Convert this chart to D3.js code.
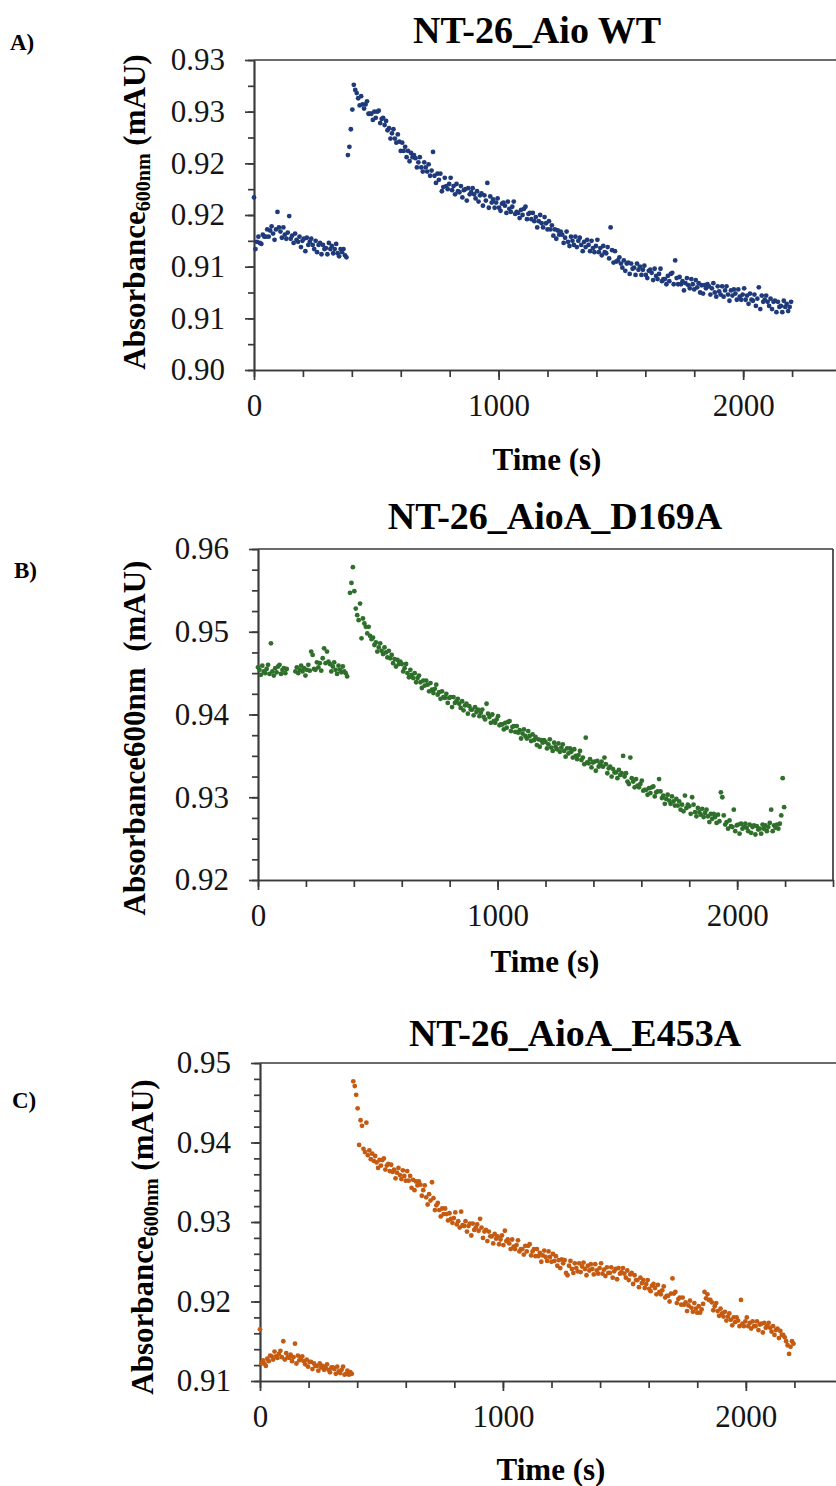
<!DOCTYPE html>
<html>
<head>
<meta charset="utf-8">
<script src="https://cdn.jsdelivr.net/npm/d3@7"></script>
<style>
  body { margin: 0; background: #fff; }
  svg { display: block; font-family: "Liberation Serif", "Times New Roman", serif; }
  .axis path, .axis line { stroke: #3a3a3a; stroke-width: 1.7; }
  .axis text { font-size: 31px; fill: #151515; }
  .frame { stroke: #3a3a3a; stroke-width: 1.7; }
  .title { font-size: 38px; font-weight: bold; fill: #000; }
  .axis_label { font-size: 31px; font-weight: bold; fill: #000; }
  .panel_letter { font-size: 23px; font-weight: bold; fill: #000; }
</style>
</head>
<body>
<svg id="figure" width="836" height="1486"></svg>
<script>
/* global d3 */

const serif = "'Liberation Serif', 'Times New Roman', serif";

// readings are taken every 6 s from t = 0 to 2196 s
const sampleInterval = 6;

const xTickValues = [0, 1000, 2000];
const xTickLabels = ["0", "1000", "2000"];
const xMinorStep = 200;
const xMax = 2400;

// A) NT-26_Aio WT
const wtTicks = [0.900, 0.905, 0.910, 0.915, 0.920, 0.925, 0.930];
const wtTickLabels = ["0.90", "0.91", "0.91", "0.92", "0.92", "0.93", "0.93"];
const wtAbs = [
  0.9167,0.9117,0.9124,0.9129,0.9123,0.9122,0.9131,0.9129,0.9129,0.9136,
  0.9129,0.9135,0.9139,0.9132,0.9126,0.9136,0.9153,0.9138,0.9134,0.9128,
  0.9138,0.9131,0.9127,0.9133,0.9149,0.9127,0.9130,0.9123,0.9132,0.9126,
  0.9124,0.9129,0.9119,0.9125,0.9127,0.9115,0.9128,0.9121,0.9124,0.9127,
  0.9121,0.9117,0.9125,0.9114,0.9121,0.9123,0.9112,0.9121,0.9117,0.9118,
  0.9112,0.9123,0.9117,0.9120,0.9113,0.9117,0.9122,0.9113,0.9110,0.9117,
  0.9114,0.9117,0.9111,0.9109,0.9208,0.9216,0.9233,0.9252,0.9276,0.9271,
  0.9268,0.9263,0.9256,0.9265,0.9257,0.9253,0.9257,0.9260,0.9248,0.9248,
  0.9248,0.9242,0.9250,0.9244,0.9250,0.9251,0.9239,0.9243,0.9244,0.9237,
  0.9241,0.9232,0.9234,0.9224,0.9229,0.9233,0.9224,0.9220,0.9228,0.9221,
  0.9212,0.9220,0.9212,0.9216,0.9206,0.9212,0.9202,0.9210,0.9206,0.9208,
  0.9205,0.9196,0.9201,0.9206,0.9196,0.9192,0.9201,0.9196,0.9192,0.9199,
  0.9188,0.9193,0.9211,0.9188,0.9181,0.9190,0.9184,0.9190,0.9173,0.9177,
  0.9186,0.9178,0.9175,0.9180,0.9186,0.9174,0.9178,0.9170,0.9180,0.9173,
  0.9172,0.9178,0.9167,0.9174,0.9175,0.9164,0.9176,0.9170,0.9172,0.9176,
  0.9170,0.9166,0.9173,0.9163,0.9169,0.9171,0.9159,0.9169,0.9164,0.9181,
  0.9157,0.9168,0.9162,0.9165,0.9157,0.9162,0.9166,0.9157,0.9154,0.9161,
  0.9162,0.9159,0.9152,0.9163,0.9156,0.9153,0.9158,0.9163,0.9151,0.9153,
  0.9152,0.9147,0.9155,0.9150,0.9156,0.9158,0.9146,0.9151,0.9152,0.9146,
  0.9152,0.9144,0.9148,0.9138,0.9144,0.9150,0.9142,0.9138,0.9148,0.9142,
  0.9136,0.9144,0.9136,0.9140,0.9130,0.9136,0.9127,0.9135,0.9131,0.9134,
  0.9131,0.9123,0.9128,0.9134,0.9124,0.9120,0.9129,0.9125,0.9121,0.9129,
  0.9119,0.9125,0.9128,0.9121,0.9115,0.9124,0.9119,0.9126,0.9121,0.9115,
  0.9125,0.9118,0.9114,0.9120,0.9126,0.9114,0.9118,0.9111,0.9120,0.9114,
  0.9113,0.9119,0.9108,0.9138,0.9116,0.9104,0.9115,0.9105,0.9106,0.9109,
  0.9103,0.9099,0.9106,0.9096,0.9103,0.9104,0.9093,0.9103,0.9098,0.9099,
  0.9092,0.9103,0.9097,0.9100,0.9092,0.9097,0.9101,0.9092,0.9089,0.9096,
  0.9097,0.9094,0.9087,0.9098,0.9091,0.9088,0.9093,0.9098,0.9086,0.9088,
  0.9088,0.9083,0.9091,0.9086,0.9093,0.9094,0.9083,0.9106,0.9089,0.9083,
  0.9090,0.9083,0.9086,0.9077,0.9084,0.9089,0.9082,0.9079,0.9088,0.9083,
  0.9078,0.9087,0.9080,0.9084,0.9075,0.9082,0.9074,0.9082,0.9079,0.9083,
  0.9081,0.9073,0.9079,0.9084,0.9075,0.9071,0.9081,0.9076,0.9073,0.9081,
  0.9071,0.9077,0.9081,0.9073,0.9067,0.9077,0.9072,0.9078,0.9074,0.9068,
  0.9078,0.9071,0.9068,0.9073,0.9079,0.9068,0.9072,0.9064,0.9074,0.9068,
  0.9067,0.9073,0.9062,0.9069,0.9080,0.9059,0.9072,0.9066,0.9068,0.9072,
  0.9066,0.9062,0.9069,0.9059,0.9066,0.9067,0.9056,0.9066,0.9061,0.9062,
  0.9056,0.9067,0.9061,0.9064,0.9057,0.9061,0.9066
];

// B) NT-26_AioA_D169A (null = no reading)
const d169aTicks = [0.92, 0.93, 0.94, 0.95, 0.96];
const d169aTickLabels = ["0.92", "0.93", "0.94", "0.95", "0.96"];
const d169aAbs = [
  0.9457,0.9454,0.9448,0.9459,0.9452,0.9450,0.9455,0.9460,0.9449,0.9486,
  0.9452,0.9447,0.9456,0.9451,0.9458,0.9460,0.9449,0.9454,0.9456,0.9450,
  0.9455,null,null,null,null,null,0.9452,0.9457,0.9450,0.9454,
  0.9459,0.9452,0.9456,0.9447,0.9454,0.9460,0.9453,0.9476,0.9472,0.9455,
  0.9454,0.9463,0.9457,0.9462,0.9453,0.9468,0.9480,0.9462,0.9476,0.9464,
  0.9461,0.9452,0.9458,0.9463,0.9454,0.9449,0.9459,0.9454,0.9451,0.9458,
  0.9452,0.9450,0.9446,null,0.9547,0.9559,0.9578,0.9549,0.9528,0.9520,
  0.9514,0.9534,0.9492,0.9516,0.9510,0.9506,0.9498,0.9506,0.9495,0.9491,
  0.9493,0.9484,0.9487,0.9476,0.9481,0.9486,0.9477,0.9473,0.9481,0.9475,
  0.9469,0.9477,0.9468,0.9472,0.9462,0.9467,0.9458,0.9466,0.9461,0.9464,
  0.9461,0.9452,0.9456,0.9461,0.9450,0.9445,0.9454,0.9448,0.9444,0.9450,
  0.9439,0.9444,0.9447,0.9439,0.9432,0.9441,0.9435,0.9441,0.9436,0.9428,
  0.9438,0.9430,0.9426,0.9431,0.9436,0.9424,0.9427,0.9419,0.9428,0.9421,
  0.9420,0.9425,0.9414,0.9420,0.9421,0.9409,0.9421,0.9414,0.9416,0.9419,
  0.9413,0.9408,0.9416,0.9405,0.9411,0.9413,0.9401,0.9410,0.9406,0.9406,
  0.9399,0.9409,0.9403,0.9406,0.9398,0.9402,0.9406,0.9397,0.9394,0.9413,
  0.9401,0.9397,0.9390,0.9400,0.9392,0.9390,0.9394,0.9398,0.9387,0.9388,
  0.9388,0.9382,0.9390,0.9384,0.9391,0.9392,0.9380,0.9385,0.9386,0.9379,
  0.9386,0.9378,0.9381,0.9371,0.9377,0.9382,0.9374,0.9371,0.9380,0.9374,
  0.9368,0.9376,0.9369,0.9373,0.9363,0.9370,0.9361,0.9369,0.9366,0.9369,
  0.9367,0.9359,0.9364,0.9370,0.9360,0.9356,0.9366,0.9361,0.9358,0.9365,
  0.9355,0.9360,0.9364,0.9356,0.9349,0.9359,0.9353,0.9359,0.9355,0.9348,
  0.9358,0.9350,0.9346,0.9351,0.9356,0.9345,0.9348,0.9340,0.9372,0.9342,
  0.9341,0.9346,0.9336,0.9342,0.9343,0.9332,0.9344,0.9337,0.9340,0.9343,
  0.9337,0.9348,0.9340,0.9329,0.9335,0.9337,0.9325,0.9334,0.9330,0.9330,
  0.9323,0.9333,0.9327,0.9329,0.9350,0.9325,0.9329,0.9319,0.9316,0.9348,
  0.9323,0.9319,0.9312,0.9322,0.9314,0.9312,0.9316,0.9320,0.9308,0.9309,
  0.9309,0.9303,0.9311,0.9305,0.9312,0.9313,0.9301,0.9306,0.9307,0.9322,
  0.9307,0.9299,0.9302,0.9292,0.9298,0.9303,0.9296,0.9292,0.9301,0.9295,
  0.9290,0.9298,0.9290,0.9295,0.9285,0.9291,0.9283,0.9302,0.9287,0.9291,
  0.9289,0.9280,0.9300,0.9291,0.9282,0.9277,0.9287,0.9282,0.9279,0.9286,
  0.9276,0.9281,0.9285,0.9277,0.9270,0.9280,0.9274,0.9280,0.9276,0.9269,
  0.9279,0.9271,0.9306,0.9300,0.9278,0.9267,0.9270,0.9262,0.9272,0.9265,
  0.9264,0.9285,0.9259,0.9266,0.9267,0.9256,0.9268,0.9262,0.9264,0.9268,
  0.9263,0.9259,0.9267,0.9257,0.9264,0.9266,0.9255,0.9265,0.9261,0.9262,
  0.9256,0.9267,0.9262,0.9266,0.9259,0.9264,0.9269,0.9285,0.9259,0.9266,
  0.9263,0.9267,0.9262,0.9268,0.9278,0.9323,0.9288
];

// C) NT-26_AioA_E453A
const e453aTicks = [0.91, 0.92, 0.93, 0.94, 0.95];
const e453aTickLabels = ["0.91", "0.92", "0.93", "0.94", "0.95"];
const e453aAbs = [
  0.9165,0.9122,0.9126,0.9122,0.9119,0.9128,0.9125,0.9132,0.9131,0.9127,
  0.9137,0.9131,0.9129,0.9134,0.9138,0.9130,0.9150,0.9127,0.9135,0.9130,
  0.9129,0.9133,0.9125,0.9130,0.9147,0.9122,0.9132,0.9126,0.9129,0.9131,
  0.9125,0.9121,0.9127,0.9118,0.9124,0.9124,0.9115,0.9122,0.9119,0.9119,
  0.9113,0.9122,0.9117,0.9119,0.9114,0.9117,0.9121,0.9114,0.9111,0.9117,
  0.9117,0.9115,0.9109,0.9118,0.9112,0.9110,0.9114,0.9118,0.9108,0.9109,
  0.9113,0.9108,0.9111,0.9109,0.9477,0.9471,0.9460,0.9443,0.9397,0.9428,
  0.9421,0.9392,0.9388,0.9425,0.9384,0.9390,0.9379,0.9386,0.9377,0.9383,
  0.9375,0.9368,0.9378,0.9371,0.9378,0.9380,0.9366,0.9371,0.9373,0.9364,
  0.9372,0.9363,0.9366,0.9355,0.9362,0.9368,0.9359,0.9354,0.9365,0.9358,
  0.9352,0.9364,0.9352,0.9358,0.9343,0.9353,0.9340,0.9351,0.9346,0.9351,
  0.9347,0.9333,0.9340,0.9346,0.9331,0.9322,0.9335,0.9327,0.9350,0.9330,
  0.9315,0.9321,0.9324,0.9315,0.9307,0.9317,0.9310,0.9317,0.9310,0.9302,
  0.9311,0.9304,0.9299,0.9305,0.9312,0.9297,0.9301,0.9293,0.9313,0.9296,
  0.9295,0.9301,0.9288,0.9295,0.9298,0.9283,0.9298,0.9290,0.9293,0.9297,
  0.9289,0.9304,0.9293,0.9280,0.9288,0.9290,0.9276,0.9288,0.9282,0.9282,
  0.9273,0.9285,0.9279,0.9282,0.9272,0.9278,0.9283,0.9271,0.9289,0.9276,
  0.9278,0.9273,0.9266,0.9278,0.9269,0.9266,0.9271,0.9277,0.9263,0.9266,
  0.9266,0.9259,0.9270,0.9263,0.9270,0.9272,0.9258,0.9263,0.9266,0.9257,
  0.9266,0.9257,0.9261,0.9250,0.9258,0.9264,0.9256,0.9251,0.9263,0.9256,
  0.9250,0.9260,0.9251,0.9257,0.9245,0.9252,0.9242,0.9253,0.9248,0.9252,
  0.9236,0.9233,0.9245,0.9251,0.9241,0.9236,0.9248,0.9242,0.9238,0.9248,
  0.9237,0.9244,0.9249,0.9241,0.9233,0.9245,0.9239,0.9247,0.9241,0.9234,
  0.9247,0.9239,0.9235,0.9242,0.9248,0.9235,0.9240,0.9232,0.9243,0.9236,
  0.9236,0.9243,0.9230,0.9238,0.9241,0.9228,0.9242,0.9235,0.9237,0.9242,
  0.9235,0.9230,0.9239,0.9227,0.9234,0.9236,0.9222,0.9233,0.9227,0.9227,
  0.9218,0.9230,0.9223,0.9227,0.9217,0.9222,0.9227,0.9216,0.9213,0.9220,
  0.9222,0.9217,0.9209,0.9221,0.9212,0.9209,0.9214,0.9219,0.9205,0.9207,
  0.9207,0.9200,0.9210,0.9229,0.9210,0.9212,0.9198,0.9203,0.9205,0.9196,
  0.9205,0.9196,0.9199,0.9188,0.9195,0.9201,0.9192,0.9187,0.9198,0.9191,
  0.9186,0.9194,0.9186,0.9190,0.9197,0.9212,0.9204,0.9209,0.9202,0.9202,
  0.9199,0.9189,0.9194,0.9198,0.9188,0.9182,0.9191,0.9185,0.9181,0.9187,
  0.9176,0.9181,0.9185,0.9177,0.9170,0.9180,0.9174,0.9180,0.9176,0.9169,
  0.9202,0.9172,0.9169,0.9175,0.9180,0.9169,0.9173,0.9166,0.9175,0.9169,
  0.9169,0.9175,0.9164,0.9171,0.9172,0.9161,0.9173,0.9167,0.9169,0.9173,
  0.9167,0.9162,0.9169,0.9158,0.9164,0.9166,0.9154,0.9163,0.9158,0.9158,
  0.9155,0.9150,0.9145,0.9134,0.9143,0.9150,0.9147
];

// panel layout (pixel positions of each plot box and its texts)
const panels = [
  { letter: "A)", title: "NT-26_Aio WT", values: wtAbs, color: "#1f3a7a",
    yDomain: [0.900, 0.930], yTicks: wtTicks, yTickLabels: wtTickLabels, yMinorStep: 0.0025,
    left: 254, right: 841, top: 60, bottom: 370, subscript: true,
    titleX: 537, titleY: 43, letterX: 10, letterY: 50,
    yLabelX: 145, yLabelY: 212, xLabelX: 547, xLabelY: 470 },
  { letter: "B)", title: "NT-26_AioA_D169A", values: d169aAbs, color: "#2e6f2a",
    yDomain: [0.92, 0.96], yTicks: d169aTicks, yTickLabels: d169aTickLabels, yMinorStep: 0.0025,
    left: 258, right: 833, top: 549, bottom: 880, subscript: false,
    titleX: 555, titleY: 529, letterX: 14, letterY: 578,
    yLabelX: 145, yLabelY: 738, xLabelX: 545, xLabelY: 972 },
  { letter: "C)", title: "NT-26_AioA_E453A", values: e453aAbs, color: "#c55a11",
    yDomain: [0.91, 0.95], yTicks: e453aTicks, yTickLabels: e453aTickLabels, yMinorStep: 0.002,
    left: 260, right: 843, top: 1063, bottom: 1381, subscript: true,
    titleX: 575, titleY: 1046, letterX: 12, letterY: 1108,
    yLabelX: 153, yLabelY: 1237, xLabelX: 551, xLabelY: 1480 }
];

const svg = d3.select("#figure");

svg.append("rect")
  .attr("width", 836)
  .attr("height", 1486)
  .attr("fill", "#fff");

// d3 axes put a sans-serif font on their group; drop it so the serif applies
function serifAxis(sel) {
  sel.attr("font-family", null).attr("font-size", null);
  sel.selectAll("text").attr("font-family", serif);
}

function drawPanel(p) {
  const g = svg.append("g");

  const xScale = d3.scaleLinear().domain([0, xMax]).range([p.left, p.right]);
  const yScale = d3.scaleLinear().domain(p.yDomain).range([p.bottom, p.top]);

  // minor ticks (no labels)
  g.append("g")
    .attr("class", "axis")
    .attr("transform", "translate(0," + p.bottom + ")")
    .call(d3.axisBottom(xScale)
      .tickValues(d3.range(0, xMax + 1, xMinorStep))
      .tickSize(7).tickSizeOuter(0).tickFormat(""));

  g.append("g")
    .attr("class", "axis")
    .attr("transform", "translate(" + p.left + ",0)")
    .call(d3.axisLeft(yScale)
      .tickValues(d3.range(p.yDomain[0], p.yDomain[1] + p.yMinorStep / 2, p.yMinorStep))
      .tickSize(6).tickSizeOuter(0).tickFormat(""));

  // major ticks with labels
  g.append("g")
    .attr("class", "axis")
    .attr("transform", "translate(0," + p.bottom + ")")
    .call(d3.axisBottom(xScale)
      .tickValues(xTickValues)
      .tickSize(10).tickSizeOuter(0).tickPadding(14)
      .tickFormat((d, i) => xTickLabels[i]))
    .call(serifAxis);

  g.append("g")
    .attr("class", "axis")
    .attr("transform", "translate(" + p.left + ",0)")
    .call(d3.axisLeft(yScale)
      .tickValues(p.yTicks)
      .tickSize(9).tickSizeOuter(0).tickPadding(20)
      .tickFormat((d, i) => p.yTickLabels[i]))
    .call(serifAxis);

  // top and right edges of the plot box
  g.append("line")
    .attr("class", "frame")
    .attr("x1", xScale(0)).attr("x2", xScale(xMax))
    .attr("y1", yScale(p.yDomain[1])).attr("y2", yScale(p.yDomain[1]));
  g.append("line")
    .attr("class", "frame")
    .attr("x1", xScale(xMax)).attr("x2", xScale(xMax))
    .attr("y1", yScale(p.yDomain[1])).attr("y2", yScale(p.yDomain[0]));

  // scatter points
  const points = p.values
    .map((v, i) => ({ t: i * sampleInterval, v: v }))
    .filter(d => d.v !== null);

  g.selectAll("circle")
    .data(points)
    .enter()
    .append("circle")
    .attr("cx", d => xScale(d.t))
    .attr("cy", d => yScale(d.v))
    .attr("r", 2.4)
    .attr("fill", p.color);

  // title and panel letter
  g.append("text")
    .attr("class", "title")
    .attr("x", p.titleX)
    .attr("y", p.titleY)
    .attr("text-anchor", "middle")
    .text(p.title);

  g.append("text")
    .attr("class", "panel_letter")
    .attr("x", p.letterX)
    .attr("y", p.letterY)
    .text(p.letter);

  // axis labels
  g.append("text")
    .attr("class", "axis_label")
    .attr("x", p.xLabelX)
    .attr("y", p.xLabelY)
    .attr("text-anchor", "middle")
    .text("Time (s)");

  const yLabel = g.append("text")
    .attr("class", "axis_label")
    .attr("transform", "translate(" + p.yLabelX + "," + p.yLabelY + ") rotate(-90)")
    .attr("text-anchor", "middle");

  if (p.subscript) {
    yLabel.append("tspan").text("Absorbance");
    yLabel.append("tspan").attr("font-size", "20px").attr("dy", 5).text("600nm");
    yLabel.append("tspan").attr("dy", -5).text(" (mAU)");
  } else {
    yLabel.attr("xml:space", "preserve").text("Absorbance600nm  (mAU)");
  }
}

panels.forEach(drawPanel);
</script>
</body>
</html>
